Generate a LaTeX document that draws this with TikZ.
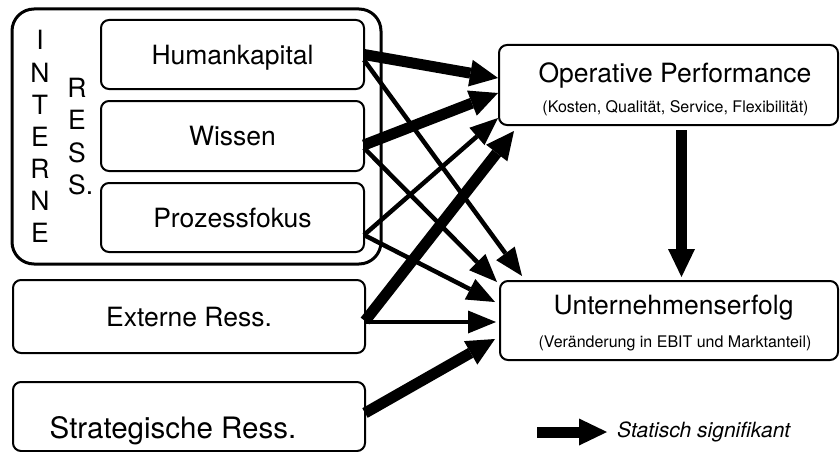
\documentclass[tikz,border=0pt]{standalone}
\usepackage{fontspec}
\setmainfont{TeX Gyre Heros}
\usetikzlibrary{arrows.meta,calc}

\tikzset{
  box/.style={draw, line width=2pt, rounded corners=8pt, inner sep=0pt, outer sep=0pt},
  group/.style={draw, line width=3pt, rounded corners=22pt, inner sep=0pt, outer sep=0pt},
  title/.style={font=\fontsize{26.5}{30}\selectfont, text height=19pt, text depth=0pt},
  letter/.style={font=\fontsize{26.5}{30}\selectfont, anchor=base, inner sep=0pt},
  caption/.style={font=\fontsize{26.5}{30}\selectfont, anchor=base, inner sep=0pt},
  note/.style={font=\fontsize{16}{19}\selectfont, anchor=base, inner sep=0pt},
  strong/.style={line width=11pt, -{Triangle[length=28pt,width=27pt,line width=0pt]}},
  weak/.style={line width=4.5pt, -{Triangle[length=28pt,width=23pt,line width=0pt]}},
}

\begin{document}
\begin{tikzpicture}[x=1pt,y=-1pt]
\useasboundingbox (0,0) rectangle (840,452);

% internal resources frame
\node[group, minimum width=369pt, minimum height=255pt] (intern) at (196.5,136.5) {};
\foreach \c [count=\i from 0] in {I,N,T,E,R,N,E}
  \node[letter] (int\i) at (40,50+32*\i) {\c};
\foreach \c [count=\i from 0] in {R,E,S,S\rlap{.}}
  \node[letter] (res\i) at (77,97+32.5*\i) {\c};

% resource boxes
\node[box, title, minimum width=263pt, minimum height=69pt] (hk) at (232.5,54.5) {Humankapital};
\node[box, title, minimum width=263pt, minimum height=70pt] (wi) at (232.5,136) {Wissen};
\node[box, title, minimum width=263pt, minimum height=69pt] (pf) at (232.5,217.5) {Prozessfokus};
\node[box, title, minimum width=352pt, minimum height=73pt] (ex) at (189,316.5) {Externe Ress.};
\node[box, minimum width=352pt, minimum height=69pt] (st) at (189,416.5) {};
\node[caption, font=\fontsize{29.5}{33}\selectfont] (stt) at (173,438) {Strategische Ress.};

% outcome boxes
\node[box, minimum width=339pt, minimum height=80pt] (op) at (668.5,85) {};
\node[caption] (opt) at (675,82.7) {Operative Performance};
\node[note] (ops) at (675.5,112) {(Kosten, Qualität, Service, Flexibilität)};
\node[box, minimum width=338pt, minimum height=79pt] (ue) at (669,320.5) {};
\node[caption] (uet) at (673.5,314) {Unternehmenserfolg};
\node[note] (ues) at (675,347) {(Veränderung in EBIT und Marktanteil)};

% effects
\draw[strong] (hk.east) -- ($(op.west)+(-1,-7)$);
\draw[weak] ($(hk.east)+(0,5.5)$) -- ($(ue.north west)+(22,-5)$);
\draw[strong] ($(wi.east)+(0,9)$) -- ($(op.west)+(-1,8)$);
\draw[weak] ($(wi.east)+(0,12)$) -- ($(ue.north west)+(-3,1)$);
\draw[weak] ($(pf.east)+(0,17.5)$) -- ($(op.south west)+(-1,-7)$);
\draw[weak] ($(pf.east)+(0,17.5)$) -- ($(ue.west)+(-5,-18.5)$);
\draw[strong] ($(ex.east)+(0,4.5)$) -- ($(op.south west)+(15,6)$);
\draw[weak] ($(ex.east)+(0,5.5)$) -- ($(ue.west)+(-4,1.5)$);
\draw[strong] ($(st.east)+(0,-3.5)$) -- ($(ue.west)+(-5,18.5)$);
\draw[strong] ($(op.south)+(13,5)$) -- ($(ue.north)+(12.5,-4)$);

% legend
\node[anchor=base west, inner sep=0pt, font=\fontsize{21}{24}\selectfont\itshape] (leg) at (617,437) {Statisch signifikant};
\coordinate (legstart) at ($(leg.base west)+(-80,-5)$);
\draw[strong] (legstart) -- ($(leg.base west)+(-10,-5)$);
\end{tikzpicture}
\end{document}
